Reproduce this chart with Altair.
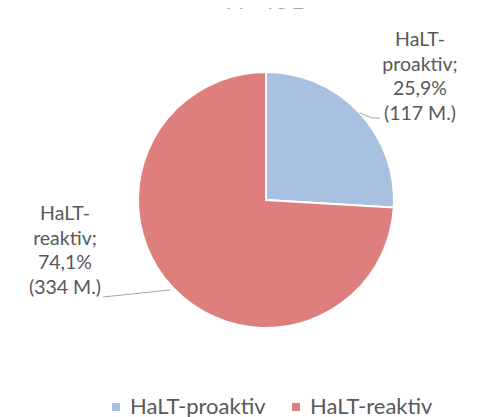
import altair as alt
import pandas as pd

categories = ["HaLT-proaktiv", "HaLT-reaktiv"]
counts = [117, 334]
percents = ["25,9%", "74,1%"]
colors = ["#A9C1E0", "#DE7F7E"]
title_text = "N=451"

labels = [f"HaLT-\n{c.split('-')[1]};\n{p}\n({n} M.)" for c, p, n in zip(categories, percents, counts)]

df = pd.DataFrame({"cat": categories, "n": counts, "order": [0, 1], "label": labels})

W, H = 466, 409
CX, CY = 258, 192

base = alt.Chart(df)

pie = base.mark_arc(outerRadius=128, stroke="white", strokeWidth=2).encode(
    theta=alt.Theta("n:Q", stack=True),
    order=alt.Order("order:Q"),
    color=alt.Color(
        "cat:N",
        scale=alt.Scale(domain=categories, range=colors),
        legend=alt.Legend(
            title=None, orient="none", direction="horizontal",
            legendX=97, legendY=388, symbolType="square", symbolSize=64,
            labelFontSize=22, labelFont="Lato", labelColor="#595959",
            columnPadding=19, symbolStrokeWidth=0, labelOffset=3,
        ),
    ),
    x=alt.value(CX), y=alt.value(CY),
)

lab_style = dict(lineBreak="\n", fontSize=19.5, font="Lato", color="#595959",
                 align="center", baseline="middle", lineHeight=24.5)

lab_pro = base.transform_filter(alt.datum.cat == categories[0]).mark_text(**lab_style).encode(
    text="label:N", x=alt.value(412), y=alt.value(32))
lab_re = base.transform_filter(alt.datum.cat == categories[1]).mark_text(**lab_style).encode(
    text="label:N", x=alt.value(57), y=alt.value(206))

one = alt.Chart(pd.DataFrame({"t": [title_text]}))
title = one.mark_text(fontSize=26, font="Lato", color="#A6A6A6", align="center",
                      baseline="alphabetic").encode(
    text="t:N", x=alt.value(257), y=alt.value(1))

def seg(x1, y1, x2, y2):
    return one.mark_rule(color="#A6A6A6", strokeWidth=1).encode(
        x=alt.value(x1), y=alt.value(y1), x2=alt.value(x2), y2=alt.value(y2))

lines = [seg(352, 105, 364, 110), seg(364, 110, 372, 110), seg(95, 289, 162, 282)]

chart = alt.layer(pie, lab_pro, lab_re, title, *lines).properties(
    width=W, height=H, autosize=alt.AutoSizeParams(type="none"), padding=0
).configure_view(stroke=None)

chart.save("out.html", embed_options={"renderer": "svg", "actions": False})
